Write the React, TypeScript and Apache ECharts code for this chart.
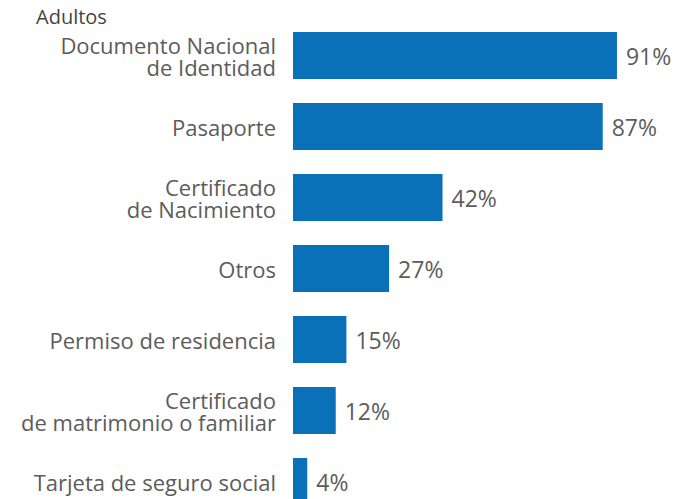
import React, { useEffect, useRef } from "react";
import * as echarts from "echarts";

const categories = [
  "Documento Nacional\nde Identidad",
  "Pasaporte",
  "Certificado\nde Nacimiento",
  "Otros",
  "Permiso de residencia",
  "Certificado\nde matrimonio o familiar",
  "Tarjeta de seguro social",
];
const values = [91, 87, 42, 27, 15, 12, 4];
const titleText = "Adultos";

const FONT = "'Open Sans'";

export default function App() {
  const ref = useRef<HTMLDivElement>(null);
  useEffect(() => {
    if (!ref.current) return;
    const chart = echarts.init(ref.current, undefined, { renderer: "svg" });
    chart.setOption({
      animation: false,
      backgroundColor: "#ffffff",
      title: {
        text: titleText,
        left: 31,
        top: 1,
        textStyle: { fontFamily: FONT, fontSize: 20, fontWeight: "normal", color: "#444444" },
      },
      grid: { left: 293, right: 38, top: 20, height: 497, containLabel: false },
      xAxis: { type: "value", min: 0, max: 100, show: false },
      yAxis: {
        type: "category",
        data: categories,
        inverse: true,
        axisLine: { show: false },
        axisTick: { show: false },
        axisLabel: {
          margin: 17,
          fontFamily: FONT,
          fontSize: 22,
          lineHeight: 22,
          color: "#5c5c5c",
          align: "right",
        },
      },
      series: [
        {
          type: "bar",
          data: values,
          barWidth: 47,
          itemStyle: { color: "#0a70b8" },
          label: {
            show: true,
            position: "right",
            distance: 9,
            formatter: "{c}%",
            fontFamily: FONT,
            fontSize: 23,
            color: "#5c5c5c",
          },
        },
      ],
    });
    return () => chart.dispose();
  }, []);
  return (
    <div
      ref={ref}
      style={{ position: "fixed", left: 0, top: 0, width: 687, height: 540 }}
    />
  );
}
